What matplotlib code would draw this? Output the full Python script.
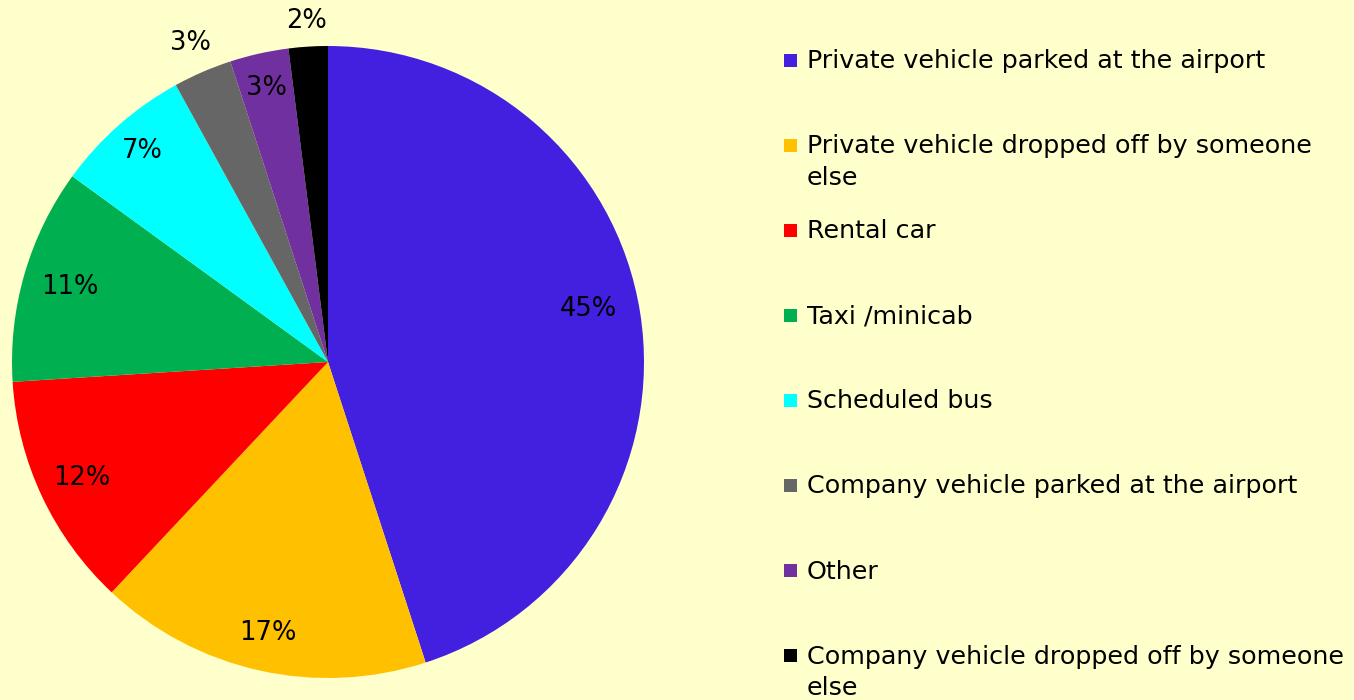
import numpy as np
import matplotlib.pyplot as plt
from matplotlib.patches import Rectangle

# data
categories = [
    "Private vehicle parked at the airport",
    "Private vehicle dropped off by someone\nelse",
    "Rental car",
    "Taxi /minicab",
    "Scheduled bus",
    "Company vehicle parked at the airport",
    "Other",
    "Company vehicle dropped off by someone\nelse",
]
shares = [45, 17, 12, 11, 7, 3, 3, 2]
colors = ["#4320E0", "#FFC000", "#FF0000", "#00B050", "#00FFFF",
          "#666666", "#7030A0", "#000000"]
# radial position of each percentage label (fraction of radius)
label_dist = [0.84, 0.88, 0.86, 0.85, 0.89, 1.10, 0.89, 1.08]

BG = "#FFFFCC"
plt.rcParams["font.family"] = ["DejaVu Sans"]

fig = plt.figure(figsize=(13.54, 7.0), dpi=100, facecolor=BG)
ax = fig.add_axes([12 / 1354, 22 / 700, 632 / 1354, 632 / 700])
ax.set_facecolor(BG)

wedges, _ = ax.pie(shares, colors=colors, startangle=90, counterclock=False,
                   radius=1.0, wedgeprops={"linewidth": 0})
ax.set_xlim(-1, 1)
ax.set_ylim(-1, 1)
ax.set_aspect("equal")
ax.axis("off")

for i, (w, val, d) in enumerate(zip(wedges, shares, label_dist)):
    ang = np.deg2rad((w.theta1 + w.theta2) / 2)
    if i == 0:
        ang += np.deg2rad(2.5)  # Excel nudges the big label up a bit
    ax.text(d * np.cos(ang), d * np.sin(ang), f"{val}%", ha="center",
            va="center", fontsize=18.5, color="black", clip_on=False)

# legend, drawn by hand to match spacing
W, H = 1354, 700
y0 = 60
step = 85.1
for i, (lab, c) in enumerate(zip(categories, colors)):
    y = y0 + i * step
    fig.patches.append(Rectangle((784 / W, 1 - (y + 6.5) / H), 13 / W, 13 / H,
                                 transform=fig.transFigure, facecolor=c,
                                 edgecolor="none"))
    fig.text(807 / W, 1 - (y - 11) / H, lab, ha="left", va="top",
             fontsize=18.3, linespacing=1.4)

fig.savefig("out.png", dpi=100, facecolor=BG)
